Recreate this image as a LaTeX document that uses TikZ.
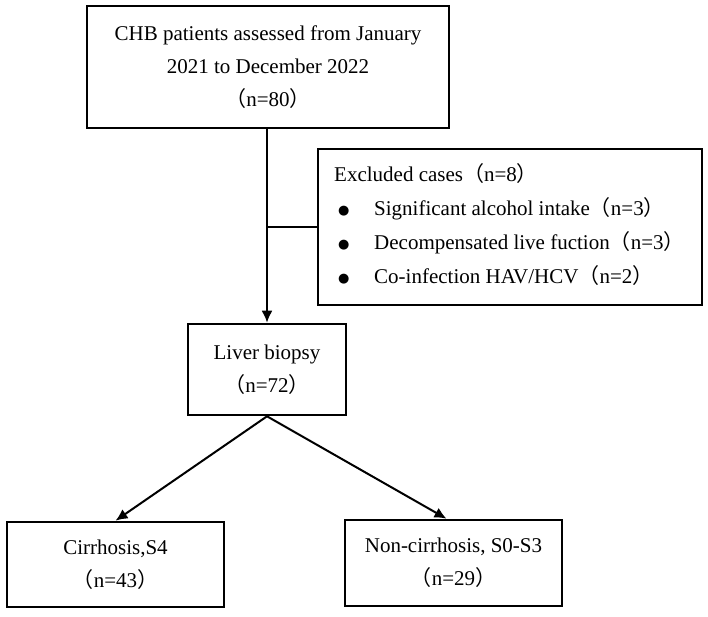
\documentclass[tikz,border=0pt]{standalone}
\usepackage{fontspec}
\setmainfont{Liberation Serif}
\newfontfamily\cjk{Noto Sans CJK SC}
\newfontfamily\symfont{DejaVu Sans}
\usetikzlibrary{arrows.meta,calc}
\newcommand\LP{{\cjk （}}
\newcommand\RP{{\cjk ）}}
\newcommand\BUL{\makebox[36pt][l]{\raisebox{1pt}{\symfont\fontsize{13}{13}\selectfont ●}}}
\begin{document}
\begin{tikzpicture}[x=1pt,y=-1pt,
  box/.style={draw,line width=2.6pt,inner sep=0pt,align=center,
    font=\fontsize{21}{33}\selectfont},
  txt/.style={inner sep=0pt,align=left,font=\fontsize{21}{34}\selectfont},
  conn/.style={line width=2pt},
  arr/.style={conn,-{Latex[length=12pt,width=11pt]}}]
\useasboundingbox (0,0) rectangle (708,616);
\node[box,minimum width=362pt,minimum height=122pt] (top) at (268,67)
  {CHB patients assessed from January\\2021 to December 2022\\\LP n=80\RP};
\node[box,minimum width=384pt,minimum height=156pt] (excl) at (510,227) {};
\node[txt,anchor=west] (excltext) at (334,225)
  {Excluded cases\LP n=8\RP\\
   \hspace*{4pt}\BUL Significant alcohol intake\LP n=3\RP\\
   \hspace*{4pt}\BUL Decompensated live fuction\LP n=3\RP\\
   \hspace*{4pt}\BUL Co-infection HAV/HCV\LP n=2\RP};
\node[box,minimum width=158pt,minimum height=91pt] (liver) at (267,369.5)
  {Liver biopsy\\\LP n=72\RP};
\node[box,minimum width=217pt,minimum height=85pt] (cirr) at (115.5,564.5)
  {Cirrhosis,S4\\\LP n=43\RP};
\node[box,minimum width=217pt,minimum height=86pt] (noncirr) at (453.5,563)
  {Non-cirrhosis, S0-S3\\\LP n=29\RP};
\draw[arr] (liver.north |- top.south) -- (liver.north);
\draw[conn] (liver.north |- excl.west) -- (excl.west);
\draw[arr] (liver.south) -- (cirr.north);
\draw[arr] (liver.south) -- ($(noncirr.north)+(-7,0)$);
\end{tikzpicture}
\end{document}
